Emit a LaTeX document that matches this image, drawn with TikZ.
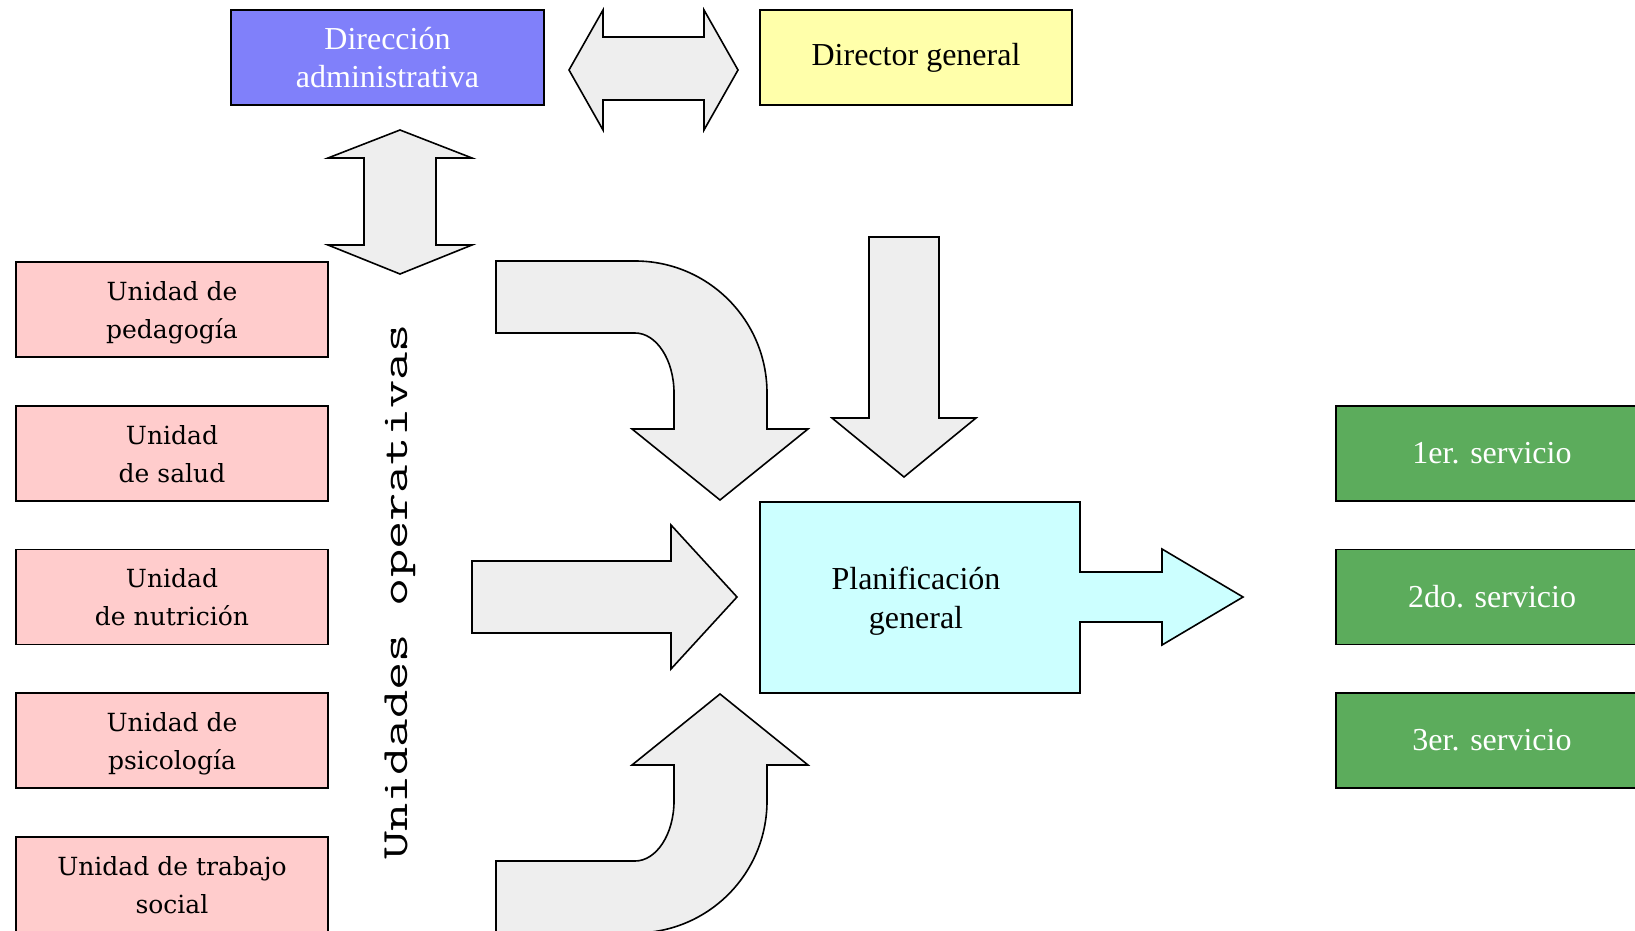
\documentclass[tikz,border=0pt]{standalone}
\usepackage{fontspec}
\usepackage{graphicx}
\setmainfont{Liberation Serif}
\newfontfamily\unitfont{DejaVu Serif}

\definecolor{dirblue}{RGB}{128,128,250}
\definecolor{dgyellow}{RGB}{255,255,170}
\definecolor{unitpink}{RGB}{255,204,204}
\definecolor{plancyan}{RGB}{204,255,255}
\definecolor{servgreen}{RGB}{92,172,92}
\definecolor{arrowgray}{RGB}{238,238,238}

\begin{document}
\begin{tikzpicture}[x=1pt,y=-1pt,
  box/.style={draw=black,line width=1.6pt,minimum width=312pt,minimum height=95pt,
    inner sep=0pt,align=center,font=\fontsize{32}{37.5}\selectfont},
  dirbox/.style={box,fill=dirblue,text=white,minimum width=313pt},
  dgbox/.style={box,fill=dgyellow},
  unitbox/.style={box,fill=unitpink,text depth=0pt,font=\unitfont\fontsize{25}{38}\selectfont},
  servbox/.style={box,fill=servgreen,text=white},
  blockarrow/.style={draw=black,line width=1.6pt,fill=arrowgray,line join=miter},
  planshape/.style={draw=black,line width=1.6pt,fill=plancyan,line join=miter}
]
\useasboundingbox (0,0) rectangle (1635,931);

% top row
\node[dirbox] (dir) at (387.5,57.5) {Dirección\\administrativa};
\node[dgbox]  (dg)  at (916,57.5) {Director general};

% horizontal double arrow between the two top boxes
\draw[blockarrow] (569,70) -- (603,10) -- (603,37) -- (704,37) -- (704,10) -- (738,70)
  -- (704,130) -- (704,100) -- (603,100) -- (603,130) -- cycle;

% vertical double arrow below Direccion administrativa
\draw[blockarrow] (400,130) -- (472,158) -- (436,158) -- (436,245) -- (472,245) -- (400,274)
  -- (328,245) -- (364,245) -- (364,158) -- (328,158) -- cycle;

% operating units
\node[unitbox] (u1) at (172,309.5) {Unidad de\\pedagogía};
\node[unitbox] (u2) at (172,453.5) {Unidad\\de salud};
\node[unitbox] (u3) at (172,597)   {Unidad\\de nutrición};
\node[unitbox] (u4) at (172,740.5) {Unidad de\\psicología};
\node[unitbox] (u5) at (172,884.5) {Unidad de trabajo\\social};

\node[rotate=90,inner sep=0pt] (ops) at (400,592)
  {\ttfamily\fontsize{37}{37}\selectfont\scalebox{1.48}[1]{Unidades operativas}};

% bent arrow from above
\draw[blockarrow] (496,261) -- (635,261) .. controls (708,261) and (767,320) .. (767,393)
  -- (767,429) -- (808,429) -- (720,500) -- (632,429) -- (674,429) -- (674,393)
  .. controls (674,360) and (656.5,333) .. (635,333) -- (496,333) -- cycle;

% straight arrow from the left
\draw[blockarrow] (472,561) -- (671,561) -- (671,525) -- (737,597) -- (671,669)
  -- (671,633) -- (472,633) -- cycle;

% bent arrow from below
\draw[blockarrow] (496,933) -- (635,933) .. controls (708,933) and (767,874) .. (767,801)
  -- (767,765) -- (808,765) -- (720,694) -- (632,765) -- (674,765) -- (674,801)
  .. controls (674,834) and (656.5,861) .. (635,861) -- (496,861) -- cycle;

% down arrow from Director general
\draw[blockarrow] (869,237) -- (939,237) -- (939,418) -- (976,418) -- (904,477)
  -- (832,418) -- (869,418) -- cycle;

% planning box with its outgoing arrow
\draw[planshape] (760,502) -- (1080,502) -- (1080,572) -- (1162,572) -- (1162,549)
  -- (1243,597) -- (1162,645) -- (1162,622) -- (1080,622) -- (1080,693) -- (760,693) -- cycle;
\node[align=center,text depth=0pt,font=\fontsize{32}{38.5}\selectfont] (plan) at (916,597.5) {Planificación\\general};

% services
\node[servbox] (s1) at (1492,453.5) {1er. servicio};
\node[servbox] (s2) at (1492,597)   {2do. servicio};
\node[servbox] (s3) at (1492,740.5) {3er. servicio};
\end{tikzpicture}
\end{document}
